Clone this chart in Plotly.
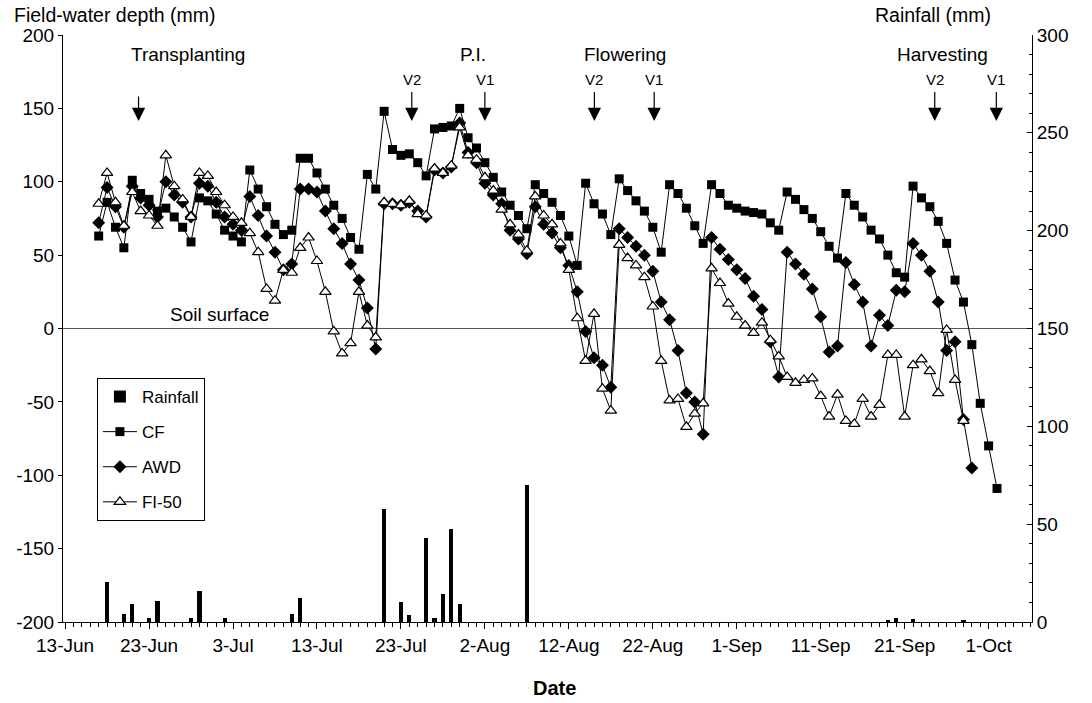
import plotly.graph_objects as go
import pandas as pd

# ---------------- data ----------------
series_start = "2003-06-17"   # first daily reading of the water-depth series

cf_depth = [63, 86, 69, 55, 101, 92, 88, 80, 82, 76, 69, 59, 89, 87, 78, 67, 63, 59,
            108, 95, 83, 71, 64, 67, 116, 116, 106, 95, 84, 75, 62, 54, 105, 95,
            148, 122, 118, 119, 113, 104, 136, 137, 138, 150, 130, 123, 113, 103, 93,
            84, 77, 68, 98, 92, 86, 77, 63, 43, 99, 85, 78, 64, 102, 94, 87, 80, 69,
            52, 98, 92, 82, 70, 58, 98, 92, 84, 82, 80, 79, 78, 72, 67, 93, 88, 81,
            75, 66, 56, 48, 92, 84, 76, 67, 61, 50, 38, 35, 97, 89, 83, 73, 58, 33,
            18, -11, -51, -80, -109]

awd_depth = [72, 96, 83, 69, 97, 89, 84, 76, 100, 91, 86, 76, 99, 97, 86, 76, 71, 67,
             90, 77, 63, 52, 40, 44, 95, 95, 93, 80, 68, 58, 44, 33, 14, -14,
             85, 85, 84, 86, 80, 76, 108, 106, 110, 140, 120, 113, 99, 91, 85, 67,
             61, 51, 83, 71, 65, 55, 43, 25, -2, -20, -25, -40, 68, 62, 56, 50, 39,
             18, 6, -15, -44, -50, -72, 62, 54, 47, 40, 34, 22, 13, -9, -33, 52, 44,
             37, 27, 8, -16, -12, 45, 30, 18, -12, 9, 2, 26, 25, 58, 50, 39, 18,
             -15, -9, -62, -95]

fi50_depth = [85, 106, 86, 70, 93, 80, 77, 70, 118, 97, 88, 76, 106, 104, 93, 84, 76,
              72, 65, 52, 27, 19, 40, 38, 55, 62, 46, 25, -2, -17, -10, 25, 2, -6,
              86, 85, 84, 87, 78, 77, 109, 106, 111, 137, 118, 115, 103, 94, 81, 71,
              64, 53, 90, 77, 71, 58, 40, 7, -22, 10, -41, -56, 57, 48, 43, 35, 15,
              -22, -49, -48, -67, -58, -51, 41, 31, 17, 8, 2, -3, 4, -8, -19, -33,
              -37, -35, -34, -46, -60, -45, -63, -65, -48, -60, -52, -18, -18, -60,
              -25, -21, -29, -44, -1, -35, -63]

rain_dates = ["2003-06-18", "2003-06-20", "2003-06-21", "2003-06-23", "2003-06-24",
              "2003-06-28", "2003-06-29", "2003-07-02", "2003-07-10", "2003-07-11",
              "2003-07-21", "2003-07-23", "2003-07-24", "2003-07-26", "2003-07-27",
              "2003-07-28", "2003-07-29", "2003-07-30", "2003-08-07", "2003-09-19",
              "2003-09-20", "2003-09-22", "2003-09-28"]
rain_mm = [20.5, 4, 9.4, 2, 10.7, 2, 15.7, 1.8, 4.3, 12.5, 57.5, 10, 3.6, 43, 2.2,
           14.2, 47.5, 9, 70, 1, 2.3, 1.5, 1]

tick_dates = ["2003-06-13", "2003-06-23", "2003-07-03", "2003-07-13", "2003-07-23",
              "2003-08-02", "2003-08-12", "2003-08-22", "2003-09-01", "2003-09-11",
              "2003-09-21", "2003-10-01"]
tick_labels = ["13-Jun", "23-Jun", "3-Jul", "13-Jul", "23-Jul", "2-Aug", "12-Aug",
               "22-Aug", "1-Sep", "11-Sep", "21-Sep", "1-Oct"]
depth_ticks = [-200, -150, -100, -50, 0, 50, 100, 150, 200]
depth_tick_labels = ["-200", "-150", "-100", "-50", "0", "50", "100", "150", "200"]

stage_names = ["Transplanting", "P.I.", "Flowering", "Harvesting"]
stage_label_dates = ["2003-06-27 14:00", "2003-07-31 14:00", "2003-08-18 17:00",
                     "2003-09-25 12:00"]
arrow_dates = ["2003-06-21 18:00", "2003-07-24 07:00", "2003-08-02 00:00",
               "2003-08-15 01:00", "2003-08-22 04:00", "2003-09-24 14:00",
               "2003-10-01 22:00"]
arrow_labels = ["", "V2", "V1", "V2", "V1", "V2", "V1"]

# ---------------- figure ----------------
FONT = "Liberation Sans, Arial, sans-serif"

def daily(values):
    return pd.date_range(series_start, periods=len(values), freq="D")

fig = go.Figure()

fig.add_trace(go.Bar(
    x=pd.to_datetime(rain_dates), y=rain_mm, yaxis="y2", name="Rainfall",
    marker=dict(color="black", line=dict(width=0)), width=0.5 * 86400000,
    legendgroup="r"))

fig.add_trace(go.Scatter(
    x=daily(cf_depth), y=cf_depth, name="CF", mode="lines+markers",
    line=dict(color="black", width=1),
    marker=dict(symbol="square", size=9, color="black"), legendgroup="c"))

fig.add_trace(go.Scatter(
    x=daily(awd_depth), y=awd_depth, name="AWD", mode="lines+markers",
    line=dict(color="black", width=1),
    marker=dict(symbol="diamond", size=10, color="black"), legendgroup="a"))

fig.add_trace(go.Scatter(
    x=daily(fi50_depth), y=fi50_depth, name="FI-50", mode="lines+markers",
    line=dict(color="black", width=1),
    marker=dict(symbol="triangle-up", size=10, color="white",
                line=dict(color="black", width=1.2)), legendgroup="f"))

annotations = []
for name, d in zip(stage_names, stage_label_dates):
    annotations.append(dict(x=d, y=0.966, xref="x", yref="paper", text=name,
                            showarrow=False, xanchor="center", yanchor="middle",
                            font=dict(size=19, color="black")))
for lab, d in zip(arrow_labels, arrow_dates):
    annotations.append(dict(x=d, y=0.8535, xref="x", yref="paper", text=lab,
                            showarrow=True, ax=0, ay=(-41 if lab else -28),
                            arrowhead=2, arrowsize=2.2, arrowwidth=1.2,
                            arrowcolor="black", startstandoff=2,
                            font=dict(size=15, color="black")))
annotations += [
    dict(x=-0.053, y=1.034, xref="paper", yref="paper", text="Field-water depth (mm)",
         showarrow=False, xanchor="left", yanchor="middle",
         font=dict(size=19.5, color="black")),
    dict(x=0.96, y=1.034, xref="paper", yref="paper", text="Rainfall (mm)",
         showarrow=False, xanchor="right", yanchor="middle",
         font=dict(size=19.5, color="black")),
    dict(x=0.161, y=0.5247, xref="paper", yref="paper", text="Soil surface",
         showarrow=False, xanchor="center", yanchor="middle",
         font=dict(size=19, color="black")),
    dict(x=0.5077, y=-0.1124, xref="paper", yref="paper", text="<b>Date</b>",
         showarrow=False, xanchor="center", yanchor="middle",
         font=dict(size=20, color="black")),
]

fig.update_layout(
    width=1092, height=703,
    margin=dict(l=63, r=60, t=35, b=81, autoexpand=False),
    paper_bgcolor="white", plot_bgcolor="white",
    font=dict(family=FONT, color="black"),
    showlegend=True,
    legend=dict(x=0.035, y=0.4157, xanchor="left", yanchor="top",
                bordercolor="black", borderwidth=1, bgcolor="white",
                font=dict(size=17), tracegroupgap=10, itemwidth=34,
                traceorder="grouped"),
    bargap=0,
    xaxis=dict(type="date", range=["2003-06-12 18:00", "2003-10-06 04:00"],
               tickmode="array", tickvals=tick_dates, ticktext=tick_labels,
               tickfont=dict(size=19), ticks="outside", ticklen=6,
               tickcolor="black", showline=True, linecolor="black", linewidth=1,
               showgrid=False, zeroline=False, automargin=False,
               minor=dict(dtick=86400000, tick0="2003-06-13", ticks="outside",
                          ticklen=4, tickcolor="black", showgrid=False)),
    yaxis=dict(range=[-200, 200], tickmode="array", tickvals=depth_ticks,
               ticktext=depth_tick_labels, tickfont=dict(size=19),
               ticks="outside", ticklen=4, tickcolor="black",
               showline=True, linecolor="black", linewidth=1, showgrid=False,
               zeroline=True, zerolinecolor="#555555", zerolinewidth=1,
               automargin=False),
    yaxis2=dict(range=[0, 300], dtick=50, overlaying="y", side="right",
                tickfont=dict(size=19), ticks="inside", ticklen=5,
                tickcolor="black", showline=True, linecolor="black", linewidth=1,
                showgrid=False, zeroline=False, automargin=False,
                minor=dict(dtick=10, ticks="inside", ticklen=3, tickcolor="black",
                           showgrid=False)),
    annotations=annotations,
)

# remove the browser's default 8 px page margin so the figure fills the window
fig.write_html("out.html",
               config={"displayModeBar": False},
               post_script="document.body.style.margin='0px';"
                           "document.body.style.overflow='hidden';")
